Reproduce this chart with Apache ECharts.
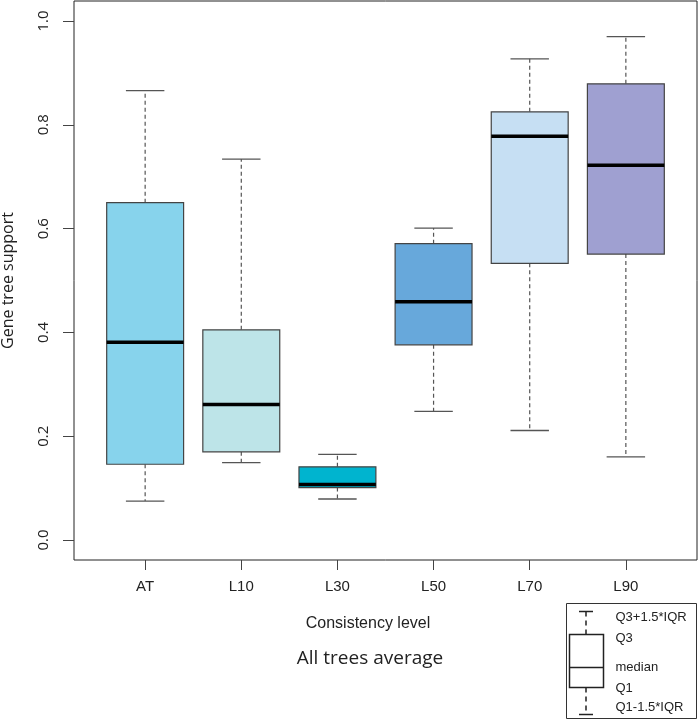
<!DOCTYPE html>
<html>
<head>
<meta charset="utf-8">
<script src="https://cdn.jsdelivr.net/npm/echarts@6/dist/echarts.min.js"></script>
<style>
  html, body { margin: 0; padding: 0; background: #fff; }
  #main { width: 700px; height: 719px; }
</style>
</head>
<body>
<div id="main"></div>
<script>
// box statistics per consistency level
var categories = ['AT', 'L10', 'L30', 'L50', 'L70', 'L90'];
var whiskerLow = [0.075, 0.149, 0.079, 0.248, 0.211, 0.160];
var q1Values = [0.146, 0.170, 0.101, 0.376, 0.533, 0.551];
var medianValues = [0.381, 0.261, 0.107, 0.459, 0.778, 0.722];
var q3Values = [0.650, 0.405, 0.141, 0.571, 0.825, 0.879];
var whiskerHigh = [0.866, 0.734, 0.165, 0.601, 0.927, 0.970];
var boxColors = ['#87D3EC', '#BDE4E8', '#00B4CF', '#67A8DB', '#C6DFF3', '#9FA0D1'];
var yTicks = [0, 0.2, 0.4, 0.6, 0.8, 1.0];

var boxData = categories.map(function (c, i) {
  return [i + 1, whiskerLow[i], q1Values[i], medianValues[i], q3Values[i], whiskerHigh[i]];
});

var myChart = echarts.init(document.getElementById('main'));

function renderBox(params, api) {
  var x = api.value(0);
  var halfBox = 0.4, halfCap = 0.2;
  var pLow = api.coord([x, api.value(1)]);
  var pQ1 = api.coord([x, api.value(2)]);
  var pMed = api.coord([x, api.value(3)]);
  var pQ3 = api.coord([x, api.value(4)]);
  var pHigh = api.coord([x, api.value(5)]);
  var left = api.coord([x - halfBox, 0])[0];
  var right = api.coord([x + halfBox, 0])[0];
  var capL = api.coord([x - halfCap, 0])[0];
  var capR = api.coord([x + halfCap, 0])[0];
  var dashStyle = { stroke: '#555', lineWidth: 1.2, lineDash: [4, 3] };
  var capStyle = { stroke: '#555', lineWidth: 1.3 };
  return {
    type: 'group',
    children: [
      { type: 'line', shape: { x1: pQ3[0], y1: pQ3[1], x2: pHigh[0], y2: pHigh[1] }, style: dashStyle },
      { type: 'line', shape: { x1: pQ1[0], y1: pQ1[1], x2: pLow[0], y2: pLow[1] }, style: dashStyle },
      { type: 'line', shape: { x1: capL, y1: pHigh[1], x2: capR, y2: pHigh[1] }, style: capStyle },
      { type: 'line', shape: { x1: capL, y1: pLow[1], x2: capR, y2: pLow[1] }, style: capStyle },
      {
        type: 'rect',
        shape: { x: left, y: pQ3[1], width: right - left, height: pQ1[1] - pQ3[1] },
        style: { fill: boxColors[params.dataIndex], stroke: '#444', lineWidth: 1.2 }
      },
      { type: 'line', shape: { x1: left, y1: pMed[1], x2: right, y2: pMed[1] }, style: { stroke: '#000', lineWidth: 3.5 } }
    ]
  };
}

var textColor = '#222';
var keyFont = '13px "Liberation Sans"';

var option = {
  animation: false,
  backgroundColor: '#fff',
  title: [
    {
      text: 'Consistency level', left: 363, top: 611, textAlign: 'center',
      textStyle: { fontFamily: 'Liberation Sans', fontSize: 16, fontWeight: 'normal', color: textColor }
    },
    {
      text: 'All trees average', left: 365, top: 644, textAlign: 'center',
      textStyle: { fontFamily: 'Open Sans', fontSize: 19, fontWeight: 'normal', color: textColor }
    }
  ],
  grid: {
    left: 74, right: 3, top: 1, bottom: 159,
    outerBoundsMode: 'none',
    containLabel: false,
    show: true, borderColor: '#222', borderWidth: 1, backgroundColor: 'transparent'
  },
  xAxis: {
    type: 'value', min: 0.26, max: 6.74,
    splitLine: { show: false },
    axisLine: { show: false, onZero: false },
    axisTick: { show: true, length: 10, lineStyle: { color: '#444' }, customValues: [1, 2, 3, 4, 5, 6] },
    axisLabel: {
      customValues: [1, 2, 3, 4, 5, 6], margin: 19,
      fontFamily: 'Liberation Sans', fontSize: 15, color: textColor,
      formatter: function (v) { return categories[Math.round(v) - 1]; }
    }
  },
  yAxis: {
    type: 'value', min: -0.0385, max: 1.0385,
    name: 'Gene tree support', nameLocation: 'middle', nameRotate: 90, nameGap: 58,
    nameTextStyle: { fontFamily: 'Open Sans', fontSize: 16, color: textColor },
    splitLine: { show: false },
    axisLine: { show: false, onZero: false },
    axisTick: { show: true, length: 11, lineStyle: { color: '#444' }, customValues: yTicks },
    axisLabel: {
      customValues: yTicks, rotate: 90, margin: 23,
      fontFamily: 'Open Sans', fontSize: 15, color: textColor,
      formatter: function (v) { return v.toFixed(1); }
    }
  },
  series: [{
    type: 'custom',
    renderItem: renderBox,
    encode: { x: 0, y: [1, 2, 3, 4, 5] },
    data: boxData,
    clip: false
  }],
  graphic: [{
    type: 'group',
    left: 566, top: 603,
    children: [
      { type: 'rect', shape: { x: 0, y: 0, width: 130, height: 115 }, style: { fill: '#fff', stroke: '#333', lineWidth: 1 } },
      { type: 'line', shape: { x1: 12.5, y1: 8, x2: 26.5, y2: 8 }, style: { stroke: '#222', lineWidth: 1.5 } },
      { type: 'line', shape: { x1: 19.5, y1: 8, x2: 19.5, y2: 31 }, style: { stroke: '#222', lineWidth: 1.5, lineDash: [5, 4] } },
      { type: 'rect', shape: { x: 3, y: 31, width: 34, height: 53 }, style: { fill: '#fff', stroke: '#222', lineWidth: 1.5 } },
      { type: 'line', shape: { x1: 3, y1: 64, x2: 37, y2: 64 }, style: { stroke: '#222', lineWidth: 1.5 } },
      { type: 'line', shape: { x1: 19.5, y1: 84, x2: 19.5, y2: 111 }, style: { stroke: '#222', lineWidth: 1.5, lineDash: [5, 4] } },
      { type: 'line', shape: { x1: 12.5, y1: 111, x2: 26.5, y2: 111 }, style: { stroke: '#222', lineWidth: 1.5 } },
      { type: 'text', x: 49, y: 14, style: { text: 'Q3+1.5*IQR', fill: textColor, font: keyFont, verticalAlign: 'middle' } },
      { type: 'text', x: 49, y: 35, style: { text: 'Q3', fill: textColor, font: keyFont, verticalAlign: 'middle' } },
      { type: 'text', x: 49, y: 64, style: { text: 'median', fill: textColor, font: keyFont, verticalAlign: 'middle' } },
      { type: 'text', x: 49, y: 85, style: { text: 'Q1', fill: textColor, font: keyFont, verticalAlign: 'middle' } },
      { type: 'text', x: 49, y: 104, style: { text: 'Q1-1.5*IQR', fill: textColor, font: keyFont, verticalAlign: 'middle' } }
    ]
  }]
};

myChart.setOption(option);
</script>
</body>
</html>
